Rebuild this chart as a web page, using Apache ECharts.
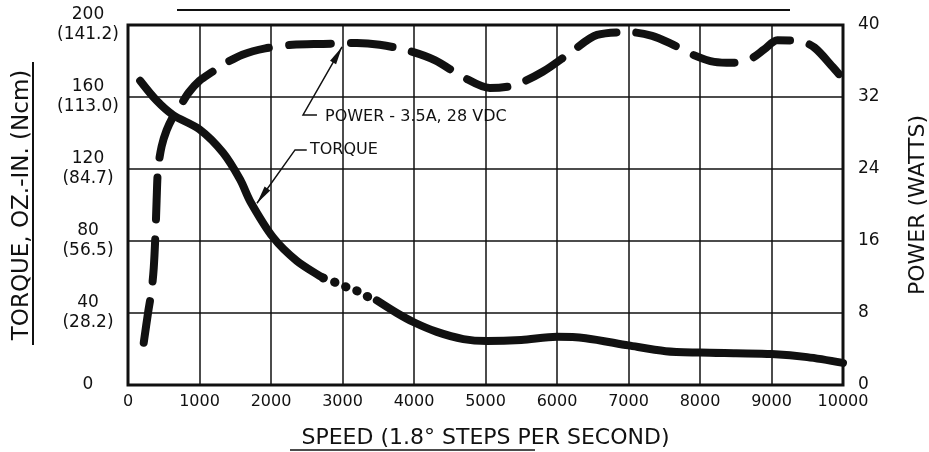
<!DOCTYPE html>
<html>
<head>
<meta charset="utf-8">
<script src="https://cdn.jsdelivr.net/npm/echarts@6.0.0/dist/echarts.min.js"></script>
<style>
  html, body { margin: 0; padding: 0; background: #fff; }
  #chart { width: 929px; height: 452px; }
</style>
</head>
<body>
<div id="chart"></div>
<script>
// x ticks (steps per second)
const speedTicks = [0, 1000, 2000, 3000, 4000, 5000, 6000, 7000, 8000, 9000, 10000];
// left axis tick labels: oz-in with Ncm below
const torqueTicks = [0, 40, 80, 120, 160, 200];
const torqueTicksNcm = ['', '(28.2)', '(56.5)', '(84.7)', '(113.0)', '(141.2)'];
const powerTicks = [0, 8, 16, 24, 32, 40];

// torque curve, solid part, dotted part, solid part
const torqueSpeedA = [170, 400, 630, 1000, 1330, 1570, 1710, 2030, 2360, 2730];
const torqueA = [169, 158, 150, 142, 129, 114, 102, 82, 69, 59.5];
const torqueSpeedDots = [2730, 2900, 3050, 3190, 3330, 3480];
const torqueDots = [59.5, 57, 54.5, 52.5, 49.5, 47];
const torqueSpeedB = [3480, 3760, 3990, 4320, 4690, 5020, 5500, 6000, 6400, 7000, 7520, 8000, 8500, 9000, 9500, 10000];
const torqueB = [47, 40, 35, 29.5, 25.5, 24.4, 25, 26.8, 26, 22, 18.8, 18, 17.6, 17.2, 15.5, 12.3];

// power curve (watts)
const powerSpeed = [220, 280, 330, 360, 385, 400, 420, 470, 540, 630, 730, 850, 1000, 1180, 1330, 1600, 1920, 2300, 2730, 3200, 3520, 3900, 4290, 4690, 5060, 5400, 5800, 6200, 6560, 7020, 7330, 7600, 7900, 8200, 8460, 8700, 8900, 9080, 9400, 9600, 9860, 9990];
const power = [4.7, 8, 10.5, 13, 17, 20.5, 24, 26.5, 28.3, 29.8, 31, 32.5, 33.8, 34.8, 35.6, 36.7, 37.4, 37.8, 37.9, 38, 37.8, 37.2, 36.1, 34.2, 33, 33.3, 34.8, 37, 38.9, 39.2, 38.8, 37.9, 36.7, 35.9, 35.8, 36.2, 37.3, 38.3, 38.2, 37.5, 35.3, 34.1];

// callouts, in speed / torque-axis units
const powerNote = 'POWER - 3.5A, 28 VDC';
const powerNoteAt = [2755, 149];
const powerLeader = [[2643, 150], [2448, 150], [2993, 187.8]];
const torqueNote = 'TORQUE';
const torqueNoteAt = [2545, 130.6];
const torqueLeader = [[2500, 130.6], [2336, 130.6], [1804, 101]];

const font = 'DejaVu Sans';
const ink = '#111';

const zip = (xs, ys) => xs.map((x, i) => [x, ys[i]]);

const chart = echarts.init(document.getElementById('chart'));

const option = {
    animation: false,
    backgroundColor: '#fff',
    grid: {
        left: 128, right: 86, top: 25, bottom: 67,
        show: true, borderColor: ink, borderWidth: 3,
        containLabel: false, outerBoundsMode: 'none'
    },
    xAxis: {
        type: 'value', min: 0, max: 10000, interval: 1000,
        name: 'SPEED (1.8° STEPS PER SECOND)',
        nameLocation: 'middle', nameGap: 42,
        nameTextStyle: { fontFamily: font, fontSize: 22, color: ink },
        axisLine: { show: false },
        axisTick: { show: false },
        axisLabel: {
            margin: 9, fontFamily: font, fontSize: 16, color: ink,
            formatter: v => speedTicks.includes(v) ? String(v) : ''
        },
        splitLine: { show: true, lineStyle: { color: ink, width: 1.5 } }
    },
    yAxis: [
        {
            type: 'value', min: 0, max: 200, interval: 40,
            name: 'TORQUE, OZ.-IN. (Ncm)',
            nameLocation: 'middle', nameGap: 94, nameRotate: 90,
            nameTextStyle: { fontFamily: font, fontSize: 23, color: ink },
            axisLine: { show: false },
            axisTick: { show: false },
            axisLabel: {
                margin: 40, align: 'center', lineHeight: 20,
                fontFamily: font, fontSize: 17, color: ink,
                formatter: v => {
                    const i = torqueTicks.indexOf(v);
                    if (i < 0) return '';
                    return torqueTicksNcm[i] ? v + '\n' + torqueTicksNcm[i] : String(v);
                }
            },
            splitLine: { show: true, lineStyle: { color: ink, width: 1.5 } }
        },
        {
            type: 'value', min: 0, max: 40, interval: 8, position: 'right',
            name: 'POWER (WATTS)',
            nameLocation: 'middle', nameGap: 64, nameRotate: 90,
            nameTextStyle: { fontFamily: font, fontSize: 22, color: ink },
            axisLine: { show: false },
            axisTick: { show: false },
            axisLabel: {
                margin: 15, fontFamily: font, fontSize: 17, color: ink,
                formatter: v => powerTicks.includes(v) ? String(v) : ''
            },
            splitLine: { show: false }
        }
    ],
    series: [
        {
            name: 'power', type: 'line', yAxisIndex: 1, smooth: 0.3,
            symbol: 'none', data: zip(powerSpeed, power),
            lineStyle: { color: ink, width: 8, type: [42, 20], cap: 'round' }
        },
        {
            name: 'torque', type: 'line', yAxisIndex: 0, smooth: 0.3,
            symbol: 'none', data: zip(torqueSpeedA, torqueA),
            lineStyle: { color: ink, width: 8, cap: 'round' }
        },
        {
            name: 'torque dots', type: 'line', yAxisIndex: 0, smooth: 0.3,
            symbol: 'none', data: zip(torqueSpeedDots, torqueDots),
            lineStyle: { color: ink, width: 9, type: [0.5, 11.5], cap: 'round' }
        },
        {
            name: 'torque tail', type: 'line', yAxisIndex: 0, smooth: 0.3,
            symbol: 'none', data: zip(torqueSpeedB, torqueB),
            lineStyle: { color: ink, width: 8, cap: 'round' }
        }
    ]
};

chart.setOption(option);

// callouts and underlines
const toPx = p => chart.convertToPixel({ xAxisIndex: 0, yAxisIndex: 0 }, p);

function arrowHead(tip, from, len, half) {
    const dx = tip[0] - from[0], dy = tip[1] - from[1];
    const d = Math.sqrt(dx * dx + dy * dy);
    const ux = dx / d, uy = dy / d;
    const bx = tip[0] - ux * len, by = tip[1] - uy * len;
    return [tip, [bx - uy * half, by + ux * half], [bx + uy * half, by - ux * half]];
}

function callout(text, at, leader) {
    const pts = leader.map(toPx);
    const tip = pts[pts.length - 1];
    const pos = toPx(at);
    return [
        { type: 'polyline', shape: { points: pts }, style: { stroke: ink, lineWidth: 1.5, fill: null } },
        { type: 'polygon', shape: { points: arrowHead(tip, pts[pts.length - 2], 18, 3.5) }, style: { fill: ink } },
        { type: 'text', x: pos[0], y: pos[1],
          style: { text: text, font: '16px "' + font + '"', fill: ink, align: 'left', verticalAlign: 'middle' } }
    ];
}

chart.setOption({
    graphic: [
        ...callout(powerNote, powerNoteAt, powerLeader),
        ...callout(torqueNote, torqueNoteAt, torqueLeader),
        // clipped heading at the very top, with its underline
        { type: 'text', x: 767, y: 5,
          style: { text: 'CHARACTERISTICS', font: '22px "' + font + '"', fill: ink, align: 'right', verticalAlign: 'bottom' } },
        { type: 'line', shape: { x1: 177, y1: 10, x2: 790, y2: 10 }, style: { stroke: ink, lineWidth: 2 } },
        // underline of left axis title
        { type: 'line', shape: { x1: 33, y1: 62, x2: 33, y2: 345 }, style: { stroke: ink, lineWidth: 2 } },
        // underline of speed title
        { type: 'line', shape: { x1: 290, y1: 450, x2: 535, y2: 450 }, style: { stroke: ink, lineWidth: 1.5 } }
    ]
});
</script>
</body>
</html>
